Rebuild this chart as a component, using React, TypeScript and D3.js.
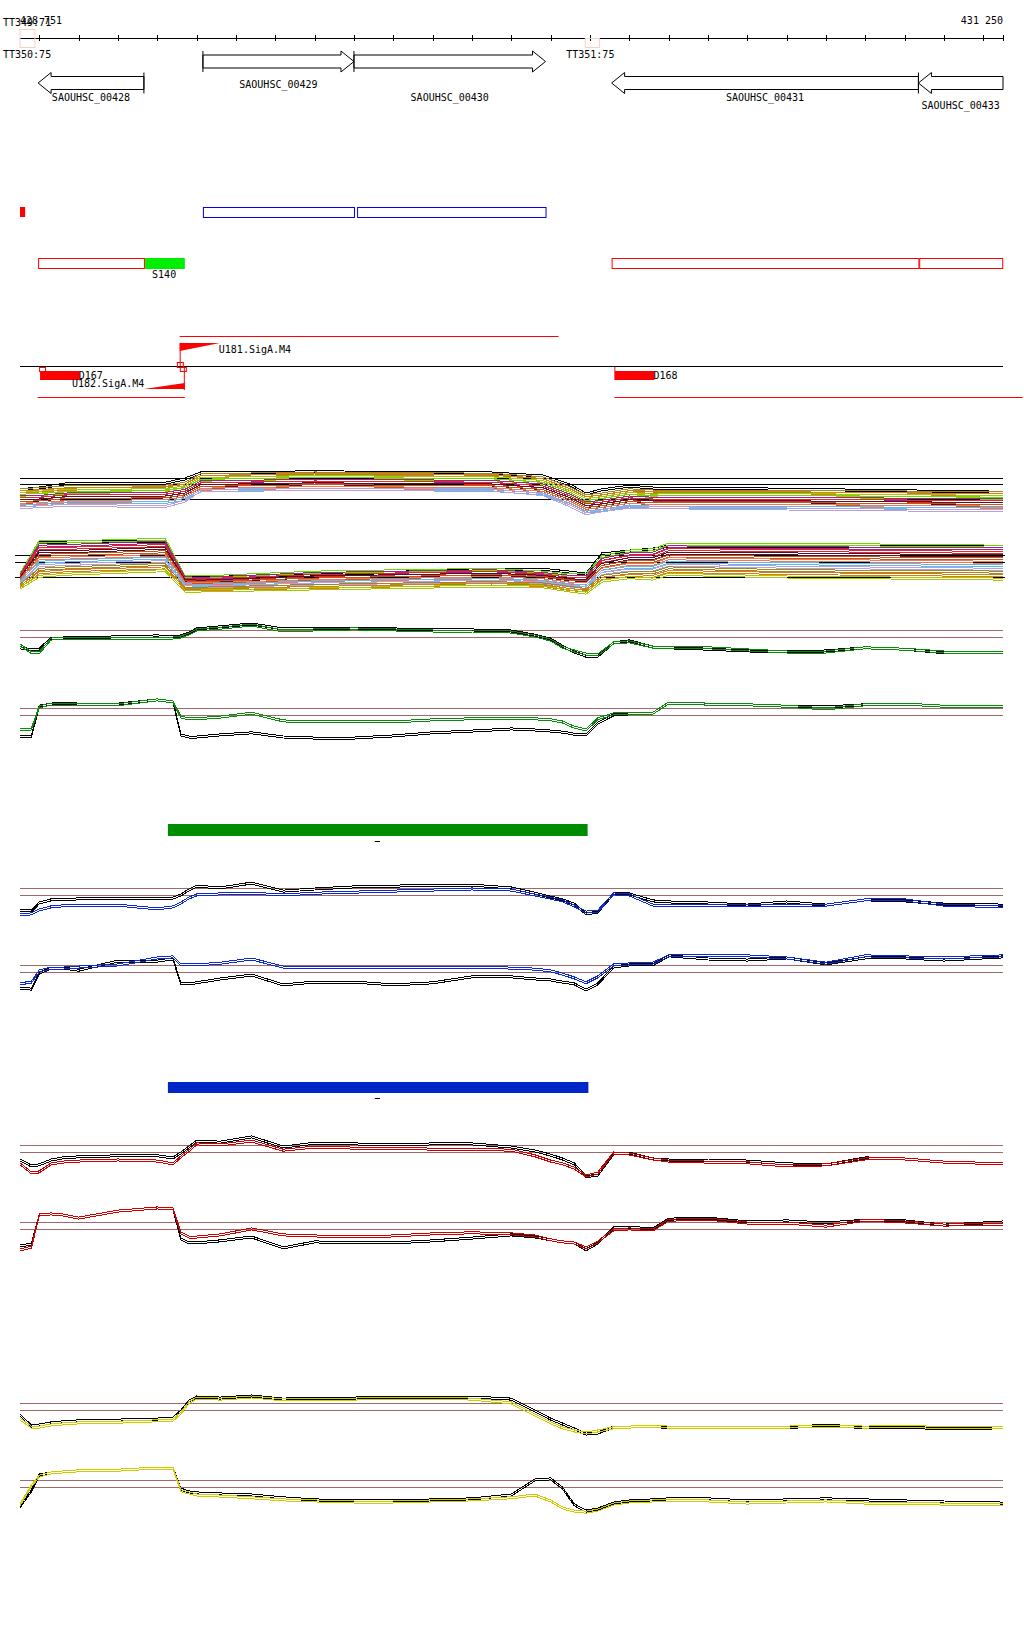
import React from "react";
import * as d3 from "d3";

// ---------------- genome window ----------------
const START = 428751;
const END = 431250;
const TICK_STEP = 100;

// ---------------- annotation data ----------------
const GENE_NAMES = ["SAOUHSC_00428", "SAOUHSC_00429", "SAOUHSC_00430", "SAOUHSC_00431", "SAOUHSC_00433"];
const GENE_STARTS = [428797, 429216, 429600, 430255, 431035];
const GENE_ENDS = [429066, 429600, 430087, 431035, 431250];
const GENE_STRANDS = [-1, 1, 1, -1, -1];

const TERM_NAMES = ["TT349:71", "TT350:75", "TT351:75"];
const TERM_STARTS = [428751, 428751, 430188];
const TERM_ENDS = [428789, 428789, 430224];

const ROW2_RED_FILLED = [[428751, 428764]];
const ROW2_BLUE_BOXES = [[429216, 429600], [429608, 430087]];
const ROW3_RED_BOXES = [[428797, 429066], [430255, 431035], [431037, 431248]];
const S140 = { name: "S140", start: 429069, end: 429170 };

const U181 = { name: "U181.SigA.M4", start: 429157, end: 430120, tss: 429259 };
const U182 = { name: "U182.SigA.M4", start: 428796, end: 429170, tss: 429066 };
const DELS = [
  { name: "D167", start: 428802, end: 428903 },
  { name: "D168", start: 430262, end: 430364 },
];
const D168_LINE_END = 431300;

const GREEN_BAR = [429127, 430194];
const BLUE_BAR = [429127, 430196];
const BAR_DASH = [429653, 429666];

// ---------------- profile data (log ratios) ----------------
const POS = [428751, 428780, 428800, 428830, 428860, 428900, 429000, 429100, 429140, 429160, 429180, 429200, 429260, 429340, 429420, 429500, 429600, 429700, 429800, 429900, 430000, 430060, 430100, 430130, 430160, 430190, 430220, 430260, 430300, 430360, 430400, 430500, 430600, 430700, 430800, 430900, 431000, 431100, 431250];

const C_BLACK = [-1.4,-1.7,-1.6,0,0,0.1,0.15,0.3,0.15,0.3,0.7,1.3,1.6,2.0,1.3,1.3,1.4,1.3,1.15,1.15,1.0,0.4,-0.15,-1.15,-2.0,-2.6,-2.6,-0.7,-0.4,-1.3,-1.4,-1.6,-1.85,-2.0,-1.85,-1.4,-1.6,-2.1,-2.0];
const C_GREEN = [-1.0,-2.1,-2.1,-0.15,0,0,0,0,0,0.15,0.55,1.15,1.4,1.85,1.0,1.15,1.3,1.15,1.0,1.0,0.85,0.3,-0.3,-1.3,-1.85,-2.3,-2.4,-0.7,-0.55,-1.3,-1.4,-1.4,-1.7,-2.0,-2.0,-1.4,-1.6,-2.0,-2.0];
const D_BLACK = [-3.0,-2.9,1.4,1.7,1.85,1.7,1.7,2.3,2.0,-2.7,-3.0,-3.0,-2.7,-2.4,-3.0,-3.15,-3.15,-2.85,-2.4,-2.15,-1.85,-2.0,-2.15,-2.3,-2.6,-2.7,-1.0,0.15,0.3,0.4,1.85,1.7,1.6,1.4,1.3,1.6,1.7,1.4,1.4];
const D_GREEN = [-2.0,-1.85,1.3,1.7,1.7,1.6,1.6,2.3,2.0,-0.15,-0.4,-0.4,-0.15,0.4,-0.7,-0.85,-0.85,-0.85,-0.55,-0.4,-0.3,-0.4,-0.55,-0.85,-1.6,-2.0,-0.4,0.3,0.4,0.4,1.85,1.7,1.6,1.4,1.0,1.6,1.7,1.4,1.4];
const E_BLACK = [-2.0,-2.15,-1.0,-0.55,-0.55,-0.4,-0.3,-0.4,-0.3,0.15,0.85,1.4,1.15,1.85,0.7,1.0,1.3,1.4,1.55,1.55,1.15,0.4,-0.15,-0.55,-1.15,-2.55,-2.3,0.3,0.3,-0.7,-0.85,-1.0,-1.3,-0.85,-1.3,-0.55,-0.7,-1.15,-1.3];
const E_BLUE = [-2.7,-2.55,-2.0,-1.55,-1.4,-1.4,-1.3,-1.85,-1.55,-1.0,-0.3,0.15,0.3,0.4,0.15,0.4,0.55,0.7,0.85,1.0,0.85,0.15,-0.3,-0.7,-1.4,-2.3,-2.15,0.3,0.15,-1.3,-1.4,-1.4,-1.4,-1.4,-1.3,-0.55,-0.55,-1.3,-1.55];
const F_BLACK = [-2.15,-2.3,0,0.7,0.7,0.4,1.7,1.7,2.0,-1.55,-1.55,-1.4,-0.85,-0.3,-1.7,-1.3,-1.3,-1.7,-1.4,-0.55,-0.55,-0.85,-1.0,-1.3,-1.55,-2.45,-1.55,0.85,1.15,1.15,2.45,2.0,1.85,2.15,1.3,2.15,2.15,1.85,2.3];
const F_BLUE = [-1.55,-1.3,0.3,0.7,0.7,0.85,1.15,2.15,2.3,1.15,1.15,1.15,1.4,2.0,0.85,0.85,0.85,0.85,0.85,0.85,0.7,0.55,0.3,-0.15,-0.7,-1.4,-0.55,1.15,1.3,1.4,2.45,2.45,2.45,2.15,1.4,2.45,2.3,2.15,2.45];
const G_BLACK = [-1.0,-1.85,-1.7,-1.0,-0.7,-0.55,-0.4,-0.4,-0.7,0,0.85,1.7,1.55,2.3,0.85,1.4,1.3,1.15,1.3,1.3,0.85,0.3,-0.3,-0.85,-1.55,-3.4,-3.15,-0.15,0,-0.85,-1.0,-1.0,-1.15,-1.55,-1.7,-0.7,-0.85,-1.3,-1.55];
const G_RED = [-1.55,-2.85,-2.7,-1.55,-1.3,-1.15,-1.0,-1.15,-1.55,-0.55,0.3,1.3,1.15,1.7,0.4,0.85,0.7,0.7,0.55,0.55,0.4,-0.4,-1.15,-1.55,-2.15,-3.3,-2.85,0,-0.15,-0.85,-1.15,-1.3,-1.4,-1.85,-1.7,-0.85,-0.85,-1.3,-1.55];
const H_BLACK = [-2.3,-2.0,2.15,2.3,2.15,1.7,2.7,3.15,3.0,-1.3,-1.85,-1.85,-1.55,-1.0,-2.55,-1.7,-1.85,-1.85,-1.55,-1.15,-0.7,-1.0,-1.4,-1.7,-1.85,-2.85,-1.85,0.3,0.4,0.15,1.55,1.7,1.15,1.3,1.0,1.4,1.3,0.7,1.15];
const H_RED = [-2.85,-2.45,2.15,2.3,2.15,1.7,2.7,3.15,3.0,-0.4,-1.0,-1.0,-0.7,0.15,-0.7,-0.85,-1.0,-0.85,-0.55,-0.4,-0.55,-0.85,-1.4,-1.7,-1.85,-2.55,-1.7,0,0.15,0,1.4,1.55,1.0,1.0,0.55,1.4,1.15,0.7,0.85];
const I_BLACK = [-0.55,-2.15,-2.0,-1.7,-1.55,-1.4,-1.3,-1.15,-1.0,0,1.4,2.0,1.85,2.15,1.7,1.85,1.85,2.0,2.0,2.0,1.7,0,-1.15,-1.85,-2.55,-3.3,-3.15,-2.3,-2.3,-2.15,-2.4,-2.4,-2.4,-2.4,-2.0,-2.4,-2.3,-2.55,-2.4];
const I_YELLOW = [-1.15,-2.3,-2.3,-2.0,-1.85,-1.7,-1.6,-1.4,-1.3,-0.3,1.15,1.85,1.7,2.0,1.6,1.7,1.7,1.85,1.85,1.7,1.15,-0.55,-1.7,-2.4,-2.85,-3.15,-2.85,-2.4,-2.3,-2.15,-2.3,-2.3,-2.3,-2.3,-2.15,-2.3,-2.15,-2.4,-2.3];
const J_BLACK = [-2.7,-0.4,1.85,2.15,2.3,2.45,2.55,2.85,2.85,-0.15,-0.55,-0.7,-0.85,-1.0,-1.4,-1.7,-1.85,-1.85,-1.7,-1.55,-1.0,1.15,1.3,0,-2.4,-3.3,-3.0,-2.15,-1.85,-1.7,-1.55,-1.55,-1.85,-1.7,-1.55,-1.7,-1.85,-2.0,-2.15];
const J_YELLOW = [-2.4,0.3,1.7,2.15,2.3,2.45,2.55,2.85,2.85,-0.4,-0.7,-1.0,-1.15,-1.4,-1.7,-1.85,-2.0,-2.0,-1.85,-1.7,-1.4,-1.0,-1.85,-2.85,-3.3,-3.45,-3.15,-2.3,-2.0,-1.85,-1.85,-1.85,-2.15,-2.0,-1.85,-2.15,-2.15,-2.3,-2.3];

// multi-sample panels
const POS_AB = [428751, 428800, 428870, 429120, 429170, 429210, 429500, 429950, 430080, 430150, 430190, 430230, 430300, 430360, 430400, 430700, 431250];

const A_BLACK = [-0.8,-0.5,0.2,0.3,1.0,2.0,2.2,2.0,1.5,0.0,-1.5,-0.8,-0.2,-0.5,-0.5,-0.7,-1.2];
const A_SERIES = [
  [-0.8,-0.6,-0.3,-0.2,0.3,1.7,2.0,1.8,1.2,-0.5,-1.8,-1.5,-0.8,-1.0,-1.0,-1.0,-1.3],
  [-1.1,-1.0,-0.7,-0.4,0.0,1.4,1.8,1.6,0.9,-0.8,-2.1,-1.8,-1.1,-1.2,-1.3,-1.3,-1.6],
  [-1.4,-1.2,-0.9,-0.8,-0.3,1.1,1.4,1.2,0.6,-1.1,-2.4,-2.1,-1.4,-1.7,-1.6,-1.6,-1.9],
  [-1.7,-1.6,-1.3,-1.0,-0.6,0.8,1.1,0.9,0.3,-1.4,-2.8,-2.4,-1.7,-1.9,-1.9,-1.9,-2.2],
  [-2.0,-1.9,-1.5,-1.4,-0.9,0.5,0.8,0.6,0.0,-1.7,-3.0,-2.7,-2.0,-2.2,-2.2,-2.2,-2.5],
  [-2.3,-2.2,-1.8,-1.7,-1.2,0.2,0.5,0.3,-0.3,-2.0,-3.3,-3.0,-2.3,-2.5,-2.5,-2.5,-2.8],
  [-2.6,-2.5,-2.1,-2.0,-1.5,-0.1,0.2,0.0,-0.6,-2.3,-3.6,-3.3,-2.6,-2.8,-2.8,-2.8,-3.1],
  [-2.9,-2.8,-2.4,-2.3,-1.8,-0.4,-0.1,-0.3,-0.9,-2.6,-3.9,-3.6,-2.9,-3.1,-3.1,-3.1,-3.4],
  [-3.2,-3.1,-2.8,-2.6,-2.1,-0.7,-0.4,-0.6,-1.2,-2.9,-4.2,-3.9,-3.2,-3.4,-3.4,-3.4,-3.7],
  [-3.5,-3.3,-3.0,-2.9,-2.4,-1.0,-0.7,-0.9,-1.5,-3.2,-4.5,-4.2,-3.5,-3.7,-3.7,-3.7,-4.0],
  [-3.8,-3.6,-3.4,-3.6,-2.7,-0.9,-0.7,-0.8,-1.6,-3.5,-4.8,-4.3,-3.7,-3.8,-3.8,-4.0,-4.3],
];

const B_BLACK = [-2.0,3.0,3.0,3.1,-2.0,-2.1,-1.7,-0.9,-0.9,-1.3,-1.6,1.3,1.7,2.0,2.4,2.3,2.3];
const B_SERIES = [
  [-1.6,3.1,3.0,3.4,-1.9,-2.0,-1.3,-0.9,-1.3,-1.7,-1.7,0.9,1.7,1.9,2.7,2.7,2.4],
  [-1.8,2.6,2.5,3.0,-2.1,-2.2,-1.5,-1.1,-1.5,-1.9,-2.0,0.5,1.3,1.4,2.3,2.2,2.0],
  [-2.0,2.1,2.1,2.5,-2.3,-2.4,-1.8,-1.3,-1.7,-2.2,-2.2,0.2,0.9,1.0,1.9,1.8,1.5],
  [-2.2,1.6,1.6,2.1,-2.5,-2.6,-2.0,-1.6,-1.9,-2.4,-2.5,-0.2,0.6,0.6,1.4,1.3,1.0],
  [-2.4,1.1,1.2,1.6,-2.7,-2.8,-2.3,-1.8,-2.1,-2.6,-2.7,-0.5,0.2,0.2,1.0,0.8,0.6],
  [-2.6,0.6,0.7,1.1,-2.9,-3.0,-2.5,-2.1,-2.4,-2.9,-3.0,-0.9,-0.2,-0.2,0.6,0.4,0.1],
  [-2.8,0.1,0.3,0.7,-3.1,-3.2,-2.7,-2.3,-2.6,-3.1,-3.3,-1.2,-0.6,-0.6,0.1,-0.1,-0.4],
  [-3.0,-0.4,-0.2,0.2,-3.4,-3.4,-3.0,-2.6,-2.8,-3.3,-3.5,-1.5,-1.0,-1.0,-0.3,-0.6,-0.9],
  [-3.2,-0.9,-0.7,-0.2,-3.6,-3.6,-3.2,-2.8,-3.0,-3.5,-3.8,-1.9,-1.4,-1.4,-0.7,-1.1,-1.3],
  [-3.4,-1.4,-1.1,-0.7,-3.8,-3.8,-3.5,-3.0,-3.2,-3.8,-4.0,-2.2,-1.8,-1.9,-1.2,-1.5,-1.8],
  [-3.6,-1.9,-1.6,-1.1,-4.0,-4.0,-3.7,-3.3,-3.4,-4.0,-4.3,-2.6,-2.1,-2.3,-1.6,-2.0,-2.3],
];
const A_REFS = [1, 0, -2.5];
const B_REFS = [1, 0, -2.14];
const PAIR_REFS = [0, 1];

// ---------------- styling ----------------
const PALETTE_AB = ["#9c8a1c", "#e07820", "#a8c800", "#66dd00", "#a0208c", "#e02828", "#581030", "#c05818", "#f07858", "#60b8f0", "#b8a0d8"];
const REF_BROWN = "#a06868";
const GREEN = "#0a8a0a";
const BLUE = "#0a2ad0";
const RED = "#cc0000";
const YELLOW = "#cccc00";

const PAIR_PANELS = [
  { zero: 637, ppu: 7, black: C_BLACK, col: C_GREEN, color: GREEN },
  { zero: 715, ppu: 7, black: D_BLACK, col: D_GREEN, color: GREEN },
  { zero: 895, ppu: 7, black: E_BLACK, col: E_BLUE, color: BLUE },
  { zero: 972, ppu: 7, black: F_BLACK, col: F_BLUE, color: BLUE },
  { zero: 1152, ppu: 7, black: G_BLACK, col: G_RED, color: RED },
  { zero: 1229, ppu: 7, black: H_BLACK, col: H_RED, color: RED },
  { zero: 1410, ppu: 7, black: I_BLACK, col: I_YELLOW, color: YELLOW },
  { zero: 1487, ppu: 7, black: J_BLACK, col: J_YELLOW, color: YELLOW },
];

const GENE_ROW_Y = [83, 61.5, 61.5, 83, 83];
const GENE_LABEL_Y = [101, 88, 101, 101, 109];

export default function App() {
  const W = 1024;
  const H = 1640;
  const x = d3.scaleLinear().domain([START, END]).range([20, 1003]);
  const ticks = [...d3.range(Math.ceil(START / TICK_STEP) * TICK_STEP, END, TICK_STEP), END];
  const fmt = (v: number) => d3.format(",")(v).replace(",", " ");

  const mkLine = (pos: number[], y: d3.ScaleLinear<number, number>) =>
    d3.line<number>().x((_, i) => x(pos[i])).y((d) => y(d));

  const geneShape = (s: number, e: number, strand: number, cy: number) => {
    const h = 6.5, Hh = 10.5, hl = 13;
    if (strand > 0) {
      const b = Math.max(s, e - hl);
      return `M${s},${cy - h}L${b},${cy - h}L${b},${cy - Hh}L${e},${cy}L${b},${cy + Hh}L${b},${cy + h}L${s},${cy + h}Z`;
    }
    const b = Math.min(e, s + hl);
    return `M${e},${cy - h}L${b},${cy - h}L${b},${cy - Hh}L${s},${cy}L${b},${cy + Hh}L${b},${cy + h}L${e},${cy + h}Z`;
  };

  const font = "'DejaVu Sans Mono', monospace";

  // dual-trace drawing (replicate traces)
  const dual = (d: string | null, color: string, key: string) => (
    <g key={key}>
      <path d={d || ""} fill="none" stroke={color} strokeWidth={1} shapeRendering="crispEdges" />
      <path d={d || ""} fill="none" stroke={color} strokeWidth={1} shapeRendering="crispEdges" transform="translate(0,2)" />
    </g>
  );

  const yA = d3.scaleLinear().domain([0, 1]).range([484, 478]);
  const yB = d3.scaleLinear().domain([0, 1]).range([562, 555]);
  const lineA = mkLine(POS_AB, yA);
  const lineB = mkLine(POS_AB, yB);

  return (
    <svg width={W} height={H} style={{ position: "absolute", left: 0, top: 0, background: "#fff" }} fontFamily={font} fontSize={10}>
      <rect width={W} height={H} fill="#fff" />
      {/* axis */}
      <line x1={x(START)} x2={x(END)} y1={38} y2={38} stroke="#000" shapeRendering="crispEdges" />
      {ticks.map((t) => (
        <line key={t} x1={Math.round(x(t)) + 0.5} x2={Math.round(x(t)) + 0.5} y1={35} y2={41} stroke="#000" />
      ))}
      <text x={20} y={24}>{fmt(START)}</text>
      <text x={1003} y={24} textAnchor="end">{fmt(END)}</text>

      {/* terminators */}
      <rect x={x(TERM_STARTS[0])} y={29.5} width={x(TERM_ENDS[0]) - x(TERM_STARTS[0])} height={18} fill="none" stroke="#f8d0c0" />
      <rect x={x(TERM_STARTS[2])} y={38.5} width={x(TERM_ENDS[2]) - x(TERM_STARTS[2])} height={9} fill="none" stroke="#f8d0c0" />
      <text x={3} y={26}>{TERM_NAMES[0]}</text>
      <text x={3} y={58}>{TERM_NAMES[1]}</text>
      <text x={x(TERM_STARTS[2]) - 19} y={58}>{TERM_NAMES[2]}</text>

      {/* genes */}
      {GENE_NAMES.map((g, i) => {
        const s = x(GENE_STARTS[i]);
        const e = x(GENE_ENDS[i]);
        const cy = GENE_ROW_Y[i];
        const barX = GENE_STRANDS[i] > 0 ? s : e;
        const showBar = GENE_ENDS[i] < END;
        return (
          <g key={g}>
            <path d={geneShape(s, e, GENE_STRANDS[i], cy)} fill="#fff" stroke="#000" strokeWidth={1} />
            {showBar && <line x1={barX} x2={barX} y1={cy - 10.5} y2={cy + 10.5} stroke="#000" />}
            <text x={(s + e) / 2} y={GENE_LABEL_Y[i]} textAnchor="middle">{g}</text>
          </g>
        );
      })}

      {/* row 2 */}
      {ROW2_RED_FILLED.map(([a, b], i) => (
        <rect key={"rf" + i} x={x(a)} y={207} width={x(b) - x(a)} height={10} fill="#ff0000" />
      ))}
      {ROW2_BLUE_BOXES.map(([a, b], i) => (
        <rect key={"bb" + i} x={x(a) + 0.5} y={207.5} width={x(b) - x(a)} height={10} fill="none" stroke="#0000ee" />
      ))}
      {/* row 3 */}
      {ROW3_RED_BOXES.map(([a, b], i) => (
        <rect key={"rb" + i} x={x(a) + 0.5} y={258.5} width={x(b) - x(a)} height={10} fill="none" stroke="#ff0000" />
      ))}
      <rect x={x(S140.start)} y={258} width={x(S140.end) - x(S140.start)} height={11} fill="#00ee00" />
      <text x={x(S140.start) + 7} y={278}>{S140.name}</text>

      {/* row 4: promoters / deletions */}
      <line x1={x(U181.start)} x2={x(U181.end)} y1={336.5} y2={336.5} stroke="#ff0000" />
      <path d={`M${x(U181.start)},343L${x(U181.tss)},343L${x(U181.start)},351Z`} fill="#ff0000" />
      <line x1={x(U181.start) + 0.5} x2={x(U181.start) + 0.5} y1={343} y2={367} stroke="#ff0000" />
      <text x={x(U181.tss) - 1} y={353}>{U181.name}</text>

      <line x1={20} x2={1003} y1={366.5} y2={366.5} stroke="#000" />

      <path d={`M${x(U182.end)},389L${x(U182.tss)},389L${x(U182.end)},383Z`} fill="#ff0000" />
      <line x1={x(U182.end) - 0.5} x2={x(U182.end) - 0.5} y1={367} y2={390} stroke="#ff0000" />
      <line x1={x(U182.start)} x2={x(U182.end)} y1={397.5} y2={397.5} stroke="#ff0000" />
      <rect x={x(U182.end) - 7.5} y={362.5} width={6} height={5} fill="none" stroke="#ff0000" />
      <rect x={x(U182.end) - 4.5} y={367.5} width={6} height={4} fill="none" stroke="#ff0000" />

      {DELS.map((d, i) => (
        <g key={d.name}>
          <rect x={x(d.start)} y={371} width={x(d.end) - x(d.start)} height={9} fill="#ff0000" />
          {i === 0 ? (
            <rect x={x(d.start) - 0.5} y={367.5} width={6} height={4} fill="none" stroke="#ff0000" />
          ) : (
            <line x1={x(d.start) + 0.5} x2={x(d.start) + 0.5} y1={367} y2={371} stroke="#ff0000" />
          )}
          <text x={x(d.end) - 1} y={379}>{d.name}</text>
        </g>
      ))}
      <text x={72} y={387}>{U182.name}</text>
      <line x1={x(DELS[1].start)} x2={x(D168_LINE_END)} y1={397.5} y2={397.5} stroke="#ff0000" />

      {/* panel A */}
      {A_REFS.map((r) => (
        <line key={"ar" + r} x1={20} x2={1003} y1={Math.round(yA(r)) + 0.5} y2={Math.round(yA(r)) + 0.5} stroke="#000" />
      ))}
      {dual(lineA(A_BLACK), "#000", "ab")}
      {A_SERIES.map((s, i) => dual(lineA(s), PALETTE_AB[i % PALETTE_AB.length], "as" + i))}

      {/* panel B */}
      {B_REFS.map((r) => (
        <line key={"br" + r} x1={15} x2={1005} y1={Math.round(yB(r)) + 0.5} y2={Math.round(yB(r)) + 0.5} stroke="#000" />
      ))}
      {dual(lineB(B_BLACK), "#000", "bb")}
      {B_SERIES.map((s, i) => dual(lineB(s), PALETTE_AB[(i + 3) % PALETTE_AB.length], "bs" + i))}

      {/* paired panels */}
      {PAIR_PANELS.map((p, k) => {
        const y = d3.scaleLinear().domain([0, 1]).range([p.zero, p.zero - p.ppu]);
        const ln = mkLine(POS, y);
        return (
          <g key={"pp" + k}>
            {PAIR_REFS.map((r) => (
              <line key={r} x1={20} x2={1003} y1={Math.round(y(r)) + 0.5} y2={Math.round(y(r)) + 0.5} stroke={REF_BROWN} />
            ))}
            {dual(ln(p.black), "#000", "k")}
            {dual(ln(p.col), p.color, "c")}
          </g>
        );
      })}

      {/* region bars */}
      <rect x={x(GREEN_BAR[0])} y={824} width={x(GREEN_BAR[1]) - x(GREEN_BAR[0])} height={12} fill="#008c00" />
      <line x1={x(BAR_DASH[0])} x2={x(BAR_DASH[1])} y1={841.5} y2={841.5} stroke="#000" />
      <rect x={x(BLUE_BAR[0])} y={1082} width={x(BLUE_BAR[1]) - x(BLUE_BAR[0])} height={11} fill="#0026c8" />
      <line x1={x(BAR_DASH[0])} x2={x(BAR_DASH[1])} y1={1098.5} y2={1098.5} stroke="#000" />
    </svg>
  );
}
